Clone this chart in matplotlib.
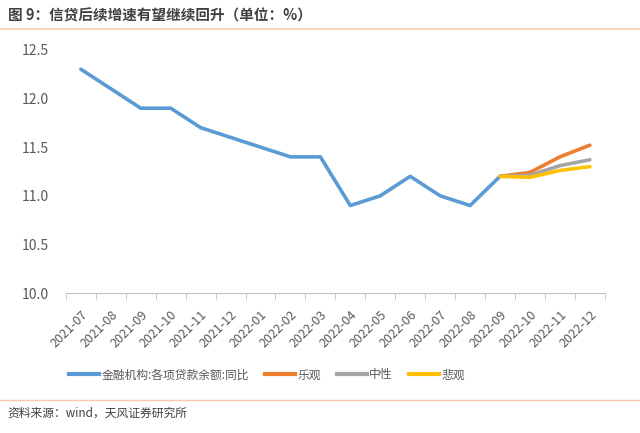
import matplotlib
matplotlib.use('Agg')
import matplotlib.pyplot as plt
from matplotlib.lines import Line2D

plt.rcParams['font.family'] = ['Noto Sans CJK SC', 'DejaVu Sans']

# 数据
months = ['2021-07', '2021-08', '2021-09', '2021-10', '2021-11', '2021-12',
          '2022-01', '2022-02', '2022-03', '2022-04', '2022-05', '2022-06',
          '2022-07', '2022-08', '2022-09', '2022-10', '2022-11', '2022-12']
actual = [12.3, 12.1, 11.9, 11.9, 11.7, 11.6, 11.5, 11.4, 11.4, 10.9, 11.0, 11.2,
          11.0, 10.9, 11.2]
optimistic = [11.2, 11.24, 11.4, 11.52]
neutral = [11.2, 11.21, 11.31, 11.37]
pessimistic = [11.2, 11.19, 11.26, 11.3]
yticks = [10.0, 10.5, 11.0, 11.5, 12.0, 12.5]

fig = plt.figure(figsize=(6.4, 4.33), dpi=100)
ax = fig.add_axes([0.103, 0.323, 0.842, 0.562])

x_act = list(range(len(actual)))
x_fc = list(range(len(actual) - 1, len(months)))

lw = 2.6
ax.plot(x_act, actual, color='#5B9BD5', lw=lw, solid_capstyle='round', zorder=3)
ax.plot(x_fc, optimistic, color='#ED7D31', lw=lw, solid_capstyle='round', zorder=3)
ax.plot(x_fc, neutral, color='#A5A5A5', lw=lw, solid_capstyle='round', zorder=4)
ax.plot(x_fc, pessimistic, color='#FFC000', lw=lw, solid_capstyle='round', zorder=5)

ax.set_xlim(-0.5, len(months) - 0.5)
ax.set_ylim(10.0, 12.5)
ax.set_yticks(yticks)
ax.set_yticklabels([f'{v:.1f}' for v in yticks], fontsize=10, color='#595959')
ax.set_xticks(range(len(months)))
ax.set_xticklabels(months, rotation=45, ha='right', rotation_mode='anchor',
                   fontsize=9, color='#595959')
ax.set_xticks([i - 0.5 for i in range(len(months) + 1)], minor=True)
ax.tick_params(axis='x', which='major', length=0, pad=11)
ax.tick_params(axis='x', which='minor', length=4, color='#BFBFBF')
ax.tick_params(axis='y', length=0, pad=12)

for s in ['top', 'right', 'left']:
    ax.spines[s].set_visible(False)
ax.spines['bottom'].set_color('#BFBFBF')

handles = [Line2D([], [], color=c, lw=3) for c in ['#5B9BD5', '#ED7D31', '#A5A5A5', '#FFC000']]
labels = ['金融机构:各项贷款余额:同比', '乐观', '中性', '悲观']
fig.legend(handles, labels, loc='center', bbox_to_anchor=(0.417, 0.134), ncol=4,
           frameon=False, fontsize=8.5, handlelength=2.5, handletextpad=0.2,
           columnspacing=1.4, labelcolor='#595959')

# 标题和来源
fig.text(0.012, 0.965, '图 9：信贷后续增速有望继续回升（单位：%）', fontsize=10.5,
         fontweight='bold', color='#404040', va='center')
fig.add_artist(Line2D([0.0, 1.0], [0.933, 0.933], color='#F8CBAD', lw=1.2))
fig.add_artist(Line2D([0.0, 1.0], [0.076, 0.076], color='#F8CBAD', lw=1.0))
fig.text(0.012, 0.045, '资料来源：wind，天风证券研究所', fontsize=8.5, color='#404040', va='center')

fig.savefig('out.png', dpi=100)
